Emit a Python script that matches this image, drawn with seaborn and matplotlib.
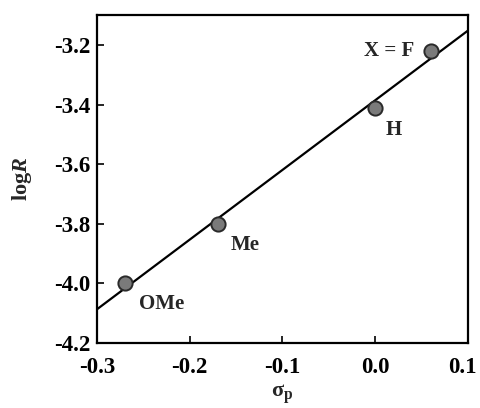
import matplotlib
matplotlib.use("Agg")
import matplotlib.pyplot as plt
import matplotlib.transforms as mtransforms
import seaborn as sns
import pandas as pd

# Data
substituents = ["OMe", "Me", "H", "X = F"]
sigma_p = [-0.27, -0.17, 0.00, 0.06]
log_R = [-4.00, -3.80, -3.41, -3.22]
x_ticks = [-0.3, -0.2, -0.1, 0.0, 0.1]
y_ticks = [-4.2, -4.0, -3.8, -3.6, -3.4, -3.2]

df = pd.DataFrame({"sigma_p": sigma_p, "logR": log_R, "label": substituents})

sns.set_style("ticks")
plt.rcParams["font.family"] = ["Liberation Serif", "DejaVu Serif"]
plt.rcParams["font.weight"] = "bold"
plt.rcParams["mathtext.fontset"] = "custom"
plt.rcParams["mathtext.rm"] = "Liberation Serif:bold"
plt.rcParams["mathtext.it"] = "Liberation Serif:italic:bold"

fig = plt.figure(figsize=(4.8, 4.08), dpi=100)
ax = fig.add_axes([0.202, 0.159, 0.773, 0.804])
ax.set_xlim(-0.3, 0.1)
ax.set_ylim(-4.2, -3.1)

sns.regplot(data=df, x="sigma_p", y="logR", ax=ax, ci=None, truncate=False,
            scatter_kws=dict(s=105, color="#7a7a7a", edgecolor="#2a2a2a",
                             linewidths=1.4, zorder=3, alpha=1),
            line_kws=dict(color="black", lw=1.6, zorder=2))

offsets = {"OMe": (10, -15, "left"), "Me": (9.5, -15, "left"),
           "H": (7.5, -16, "left"), "X = F": (-12, 0, "right")}
for lab, xv, yv in zip(substituents, sigma_p, log_R):
    dx, dy, ha = offsets[lab]
    ax.annotate(lab, (xv, yv), xytext=(dx, dy), textcoords="offset points",
                ha=ha, va="center", fontsize=15, fontweight="bold")

ax.set_xticks(x_ticks)
ax.set_yticks(y_ticks)
ax.set_xticklabels([f"{v:.1f}" for v in x_ticks])
ax.set_yticklabels([f"{v:.1f}" for v in y_ticks])
ax.tick_params(axis="both", direction="in", length=5, width=1.2, labelsize=16.5,
               color="black", labelcolor="black")
ax.tick_params(axis="y", pad=5)
ax.tick_params(axis="x", pad=10)
for s in ax.spines.values():
    s.set_visible(True)
    s.set_linewidth(1.6)
    s.set_color("black")

# the last x tick label sits slightly left in the reference (clipped at the edge)
last = ax.get_xticklabels()[-1]
last.set_transform(last.get_transform() +
                   mtransforms.ScaledTranslation(-6 / 100, 0, fig.dpi_scale_trans))

ax.set_xlabel(r"σ$_\mathrm{p}$", fontsize=16, labelpad=3, fontweight="bold")
ax.set_ylabel(r"log$\mathit{R}$", fontsize=16, labelpad=14, fontweight="bold")

fig.savefig("out.png", dpi=100)
